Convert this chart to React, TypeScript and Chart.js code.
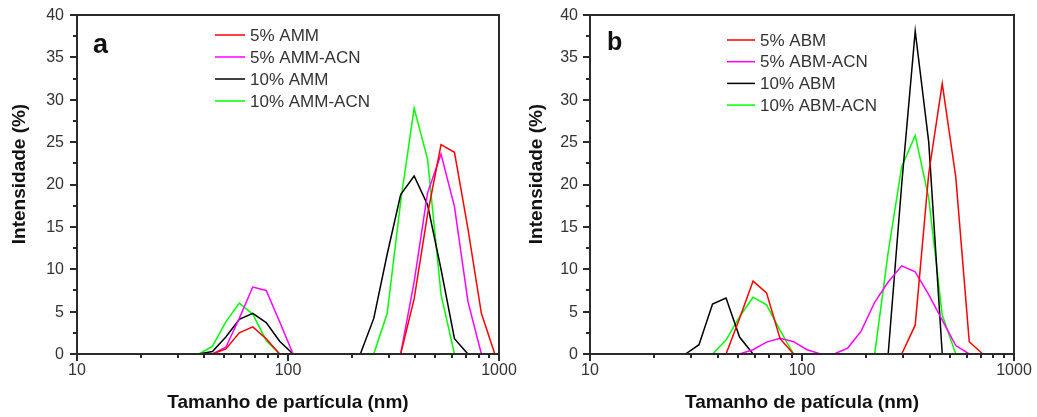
import React, { useEffect, useRef } from "react";
import { Chart, registerables } from "chart.js";

Chart.register(...registerables);

// ---------- Panel a data (particle size in nm, intensity in %) ----------
const aRedSize = [43.82, 50.75, 58.77, 68.06, 78.82, 91.28, 342.0, 396.1, 458.7, 531.2, 615.1, 712.4, 825.0, 955.4];
const aRedInt = [0, 0.6, 2.5, 3.2, 1.8, 0, 0, 6.5, 16.5, 24.7, 23.8, 14.8, 4.8, 0];

const aMagSize = [43.82, 50.75, 58.77, 68.06, 78.82, 91.28, 105.7, 342.0, 396.1, 458.7, 531.2, 615.1, 712.4, 825.0];
const aMagInt = [0, 0.8, 4.2, 7.9, 7.5, 3.8, 0, 0, 8.5, 19.0, 23.6, 17.4, 6.2, 0];

const aBlkSize = [37.84, 43.82, 50.75, 58.77, 68.06, 78.82, 91.28, 105.7, 220.2, 255.0, 295.3, 342.0, 396.1, 458.7, 531.2, 615.1, 712.4];
const aBlkInt = [0, 0.3, 2.0, 4.1, 4.8, 3.7, 1.5, 0, 0, 4.2, 11.8, 18.8, 21.0, 17.6, 10.0, 1.8, 0];

const aGrnSize = [37.84, 43.82, 50.75, 58.77, 68.06, 78.82, 91.28, 255.0, 295.3, 342.0, 396.1, 458.7, 531.2, 615.1];
const aGrnInt = [0, 0.9, 3.8, 6.0, 4.7, 1.6, 0, 0, 4.8, 18.0, 29.0, 23.0, 7.0, 0];

// ---------- Panel b data ----------
const bRedSize = [43.82, 50.75, 58.77, 68.06, 78.82, 91.28, 295.3, 342.0, 396.1, 458.7, 531.2, 615.1, 712.4];
const bRedInt = [0, 4.2, 8.6, 7.2, 1.8, 0, 0, 3.4, 21.3, 31.9, 20.9, 1.45, 0];

const bMagSize = [50.75, 58.77, 68.06, 78.82, 91.28, 105.7, 122.4, 141.8, 164.2, 190.1, 220.2, 255.0, 295.3, 342.0, 396.1, 458.7, 531.2, 615.1];
const bMagInt = [0, 0.5, 1.4, 1.85, 1.45, 0.5, 0, 0, 0.7, 2.7, 6.1, 8.5, 10.4, 9.7, 7.0, 4.0, 1.0, 0];

const bBlkSize = [28.21, 32.67, 37.84, 43.82, 50.75, 58.77, 255.0, 295.3, 342.0, 396.1, 458.7];
const bBlkInt = [0, 1.1, 5.9, 6.6, 2.0, 0, 0, 20.0, 38.1, 25.0, 0];

const bGrnSize = [37.84, 43.82, 50.75, 58.77, 68.06, 78.82, 91.28, 220.2, 255.0, 295.3, 342.0, 396.1, 458.7, 531.2];
const bGrnInt = [0, 1.65, 4.4, 6.7, 5.8, 2.8, 0, 0, 12.0, 22.1, 25.8, 18.4, 4.6, 0];

// ---------- Labels & ticks ----------
const aLabels = ["5% AMM", "5% AMM-ACN", "10% AMM", "10% AMM-ACN"];
const bLabels = ["5% ABM", "5% ABM-ACN", "10% ABM", "10% ABM-ACN"];
const seriesColors = ["#ff0000", "#ff00ff", "#000000", "#00ff00"];

const xMajorTicks = [10, 100, 1000];
const xMinorTicks = [20, 30, 40, 50, 60, 70, 80, 90, 200, 300, 400, 500, 600, 700, 800, 900];
const yMajorTicks = [0, 5, 10, 15, 20, 25, 30, 35, 40];
const yMinorTicks = [2.5, 7.5, 12.5, 17.5, 22.5, 27.5, 32.5, 37.5];

const yTitle = "Intensidade (%)";
const aXTitle = "Tamanho de partícula (nm)";
const bXTitle = "Tamanho de patícula (nm)";

const FONT = "'Liberation Sans', Arial, Helvetica, sans-serif";
const AXIS_COLOR = "#2a2a2a";
const LABEL_COLOR = "#333333";

function pts(xs: number[], ys: number[]) {
  return xs.map((x, i) => ({ x, y: ys[i] }));
}

type PanelCfg = {
  letter: string;
  letterSize: number;
  letterX: number;
  letterY: number;
  legendLineX0: number;
  legendLineX1: number;
  legendTextX: number;
  legendY0: number;
  legendStep: number;
  xTitle: string;
  yTitleX: number;
  yTitleY: number;
  yWidth: number;
  rightPad: number;
  yLabelGap: number;
};

function makeDecor(cfg: PanelCfg) {
  return {
    id: "decor",
    afterDraw(chart: any) {
      const ctx: CanvasRenderingContext2D = chart.ctx;
      const xs = chart.scales.x;
      const ys = chart.scales.y;
      const ca = chart.chartArea;
      const L = Math.round(ca.left);
      const R = Math.round(ca.right);
      const T = Math.round(ca.top);
      const B = Math.round(ca.bottom);
      ctx.save();
      ctx.fillStyle = AXIS_COLOR;
      // frame
      ctx.fillRect(L - 1, T - 1, R - L + 2, 2);
      ctx.fillRect(L - 1, B - 1, R - L + 2, 2);
      ctx.fillRect(L - 1, T - 1, 2, B - T + 2);
      ctx.fillRect(R - 1, T - 1, 2, B - T + 2);
      // x ticks
      for (const v of xMajorTicks) {
        const p = Math.round(xs.getPixelForValue(v));
        ctx.fillRect(p - 1, B, 2, 7);
      }
      for (const v of xMinorTicks) {
        const p = Math.round(xs.getPixelForValue(v));
        ctx.fillRect(p - 1, B, 2, 4);
      }
      // y ticks
      for (const v of yMajorTicks) {
        const p = Math.round(ys.getPixelForValue(v));
        ctx.fillRect(L - 7, p - 1, 7, 2);
      }
      for (const v of yMinorTicks) {
        const p = Math.round(ys.getPixelForValue(v));
        ctx.fillRect(L - 4, p - 1, 4, 2);
      }

      // tick labels
      ctx.fillStyle = LABEL_COLOR;
      ctx.font = `16px ${FONT}`;
      ctx.textBaseline = "middle";
      ctx.textAlign = "center";
      for (const v of xMajorTicks) {
        ctx.fillText(String(v), xs.getPixelForValue(v), 371);
      }
      ctx.textAlign = "right";
      for (const v of yMajorTicks) {
        ctx.fillText(String(v), L - cfg.yLabelGap, ys.getPixelForValue(v) + 0.5);
      }

      // legend
      ctx.font = `17px ${FONT}`;
      ctx.textBaseline = "middle";
      ctx.textAlign = "left";
      chart.data.datasets.forEach((ds: any, i: number) => {
        const y = cfg.legendY0 + i * cfg.legendStep;
        ctx.strokeStyle = ds.borderColor;
        ctx.lineWidth = 1.5;
        ctx.beginPath();
        ctx.moveTo(cfg.legendLineX0, y);
        ctx.lineTo(cfg.legendLineX1, y);
        ctx.stroke();
        ctx.fillStyle = LABEL_COLOR;
        ctx.fillText(ds.label, cfg.legendTextX, y + 1);
      });

      // panel letter
      ctx.fillStyle = "#111";
      ctx.font = `bold ${cfg.letterSize}px ${FONT}`;
      ctx.textBaseline = "alphabetic";
      ctx.fillText(cfg.letter, cfg.letterX, cfg.letterY);

      // axis titles
      ctx.font = `bold 19px ${FONT}`;
      ctx.textAlign = "center";
      ctx.textBaseline = "middle";
      ctx.fillStyle = "#111";
      ctx.fillText(cfg.xTitle, (ca.left + ca.right) / 2, 403);
      ctx.translate(cfg.yTitleX, cfg.yTitleY);
      ctx.rotate(-Math.PI / 2);
      ctx.fillText(yTitle, 0, 0);
      ctx.restore();
    },
  };
}

function buildChart(canvas: HTMLCanvasElement, labels: string[], series: { x: number; y: number }[][], cfg: PanelCfg) {
  return new Chart(canvas, {
    type: "line",
    data: {
      datasets: series.map((data, i) => ({
        label: labels[i],
        data,
        borderColor: seriesColors[i],
        backgroundColor: seriesColors[i],
        borderWidth: 1.5,
        pointRadius: 0,
        tension: 0,
        fill: false,
      })),
    },
    options: {
      animation: false,
      responsive: false,
      maintainAspectRatio: false,
      devicePixelRatio: 1,
      layout: { padding: { top: 15, right: cfg.rightPad, bottom: 0, left: 0 } },
      plugins: { legend: { display: false }, tooltip: { enabled: false } },
      scales: {
        x: {
          type: "logarithmic",
          min: 10,
          max: 1000,
          position: "bottom",
          grid: { display: false },
          border: { display: false },
          ticks: { display: false },
          afterFit: (s: any) => {
            s.height = 63;
            s.paddingLeft = 0;
            s.paddingRight = 0;
          },
        },
        y: {
          type: "linear",
          min: 0,
          max: 40,
          grid: { display: false },
          border: { display: false },
          ticks: { display: false },
          afterFit: (s: any) => {
            s.width = cfg.yWidth;
            s.paddingTop = 0;
            s.paddingBottom = 0;
          },
        },
      },
    },
    plugins: [makeDecor(cfg)],
  } as any);
}

const cfgA: PanelCfg = {
  letter: "a",
  letterSize: 27,
  letterX: 93,
  letterY: 53,
  legendLineX0: 215,
  legendLineX1: 245,
  legendTextX: 250,
  legendY0: 35,
  legendStep: 22,
  xTitle: aXTitle,
  yTitleX: 20,
  yTitleY: 174,
  yWidth: 77,
  rightPad: 19,
  yLabelGap: 13,
};

const cfgB: PanelCfg = {
  letter: "b",
  letterSize: 25,
  letterX: 90,
  letterY: 50,
  legendLineX0: 210,
  legendLineX1: 238,
  legendTextX: 243,
  legendY0: 40,
  legendStep: 21.7,
  xTitle: bXTitle,
  yTitleX: 20,
  yTitleY: 174,
  yWidth: 73,
  rightPad: 23,
  yLabelGap: 12,
};

export default function App() {
  const refA = useRef<HTMLCanvasElement>(null);
  const refB = useRef<HTMLCanvasElement>(null);

  useEffect(() => {
    const ca = buildChart(
      refA.current!,
      aLabels,
      [pts(aRedSize, aRedInt), pts(aMagSize, aMagInt), pts(aBlkSize, aBlkInt), pts(aGrnSize, aGrnInt)],
      cfgA
    );
    const cb = buildChart(
      refB.current!,
      bLabels,
      [pts(bRedSize, bRedInt), pts(bMagSize, bMagInt), pts(bBlkSize, bBlkInt), pts(bGrnSize, bGrnInt)],
      cfgB
    );
    return () => {
      ca.destroy();
      cb.destroy();
    };
  }, []);

  return (
    <div style={{ position: "absolute", left: 0, top: 0, width: 1037, height: 417, background: "#fff" }}>
      <canvas ref={refA} width={518} height={417} style={{ position: "absolute", left: 0, top: 0 }} />
      <canvas ref={refB} width={520} height={417} style={{ position: "absolute", left: 517, top: 0 }} />
    </div>
  );
}
